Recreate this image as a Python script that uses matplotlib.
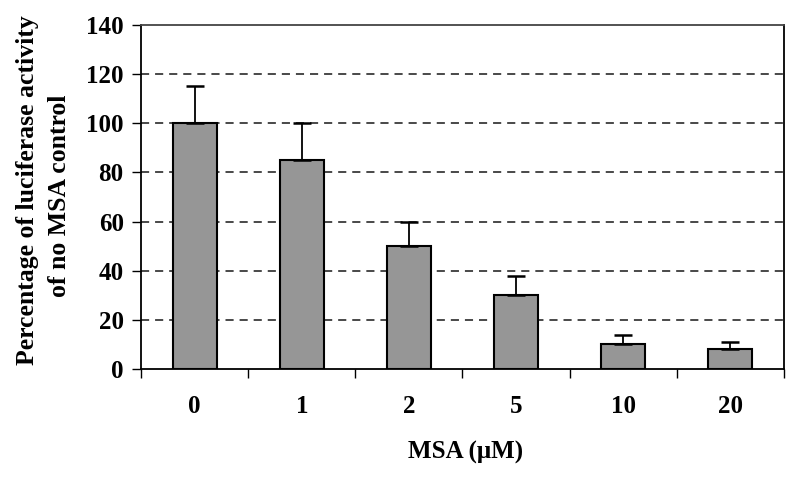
import matplotlib
matplotlib.use("Agg")
import matplotlib.pyplot as plt
import numpy as np

categories = ["0", "1", "2", "5", "10", "20"]
values = [100, 85, 50, 30, 10, 8]
errors = [15, 15, 10, 8, 4, 3]
yticks = [0, 20, 40, 60, 80, 100, 120, 140]

plt.rcParams['font.family'] = ['Liberation Serif', 'DejaVu Serif']
plt.rcParams['font.weight'] = 'bold'

fig = plt.figure(figsize=(8, 4.82), dpi=100)
ax = fig.add_axes([141 / 800, 1 - 369 / 482, 643 / 800, 344 / 482])

x = np.arange(len(categories))
ax.bar(x, values, width=0.41, color='#969696', edgecolor='black', linewidth=1.5, zorder=3)
ax.errorbar(x, values, yerr=[np.zeros(len(errors)), errors], fmt='none',
            ecolor='black', elinewidth=1.3, capsize=6.5, capthick=1.8, zorder=4)

ax.set_xlim(-0.5, len(categories) - 0.5)
ax.set_ylim(0, 140)
ax.set_yticks(yticks)
ax.set_yticklabels([str(t) for t in yticks], fontsize=18, fontweight='bold')

for t in yticks[1:-1]:
    ax.axhline(t, color='#3a3a3a', linestyle=(0, (4.5, 3.3)), linewidth=1.3, zorder=1)

ax.set_xticks(np.arange(-0.5, len(categories), 1.0))
ax.set_xticklabels([])
ax.set_xticks(x, minor=True)
ax.set_xticklabels(categories, minor=True, fontsize=18, fontweight='bold')
ax.tick_params(axis='x', which='major', direction='out', length=6.5, width=1, color='black')
ax.tick_params(axis='x', which='minor', length=0, pad=19)
ax.tick_params(axis='y', direction='out', length=6.5, width=1, pad=6)

for s in ['left', 'bottom', 'right']:
    ax.spines[s].set_color('black')
    ax.spines[s].set_linewidth(1.3)
ax.spines['top'].set_color('#444444')
ax.spines['top'].set_linewidth(1.3)

fig.text(28 / 800, 1 - 190 / 482, "Percentage of luciferase activity", rotation=90,
         ha='center', va='center', fontsize=18.5, fontweight='bold')
fig.text(59 / 800, 1 - 196 / 482, "of no MSA control", rotation=90,
         ha='center', va='center', fontsize=18.5, fontweight='bold')
fig.text(466 / 800, 1 - 452 / 482, "MSA (\u03bcM)", ha='center', va='center',
         fontsize=18, fontweight='bold')

fig.savefig("out.png", dpi=100)
